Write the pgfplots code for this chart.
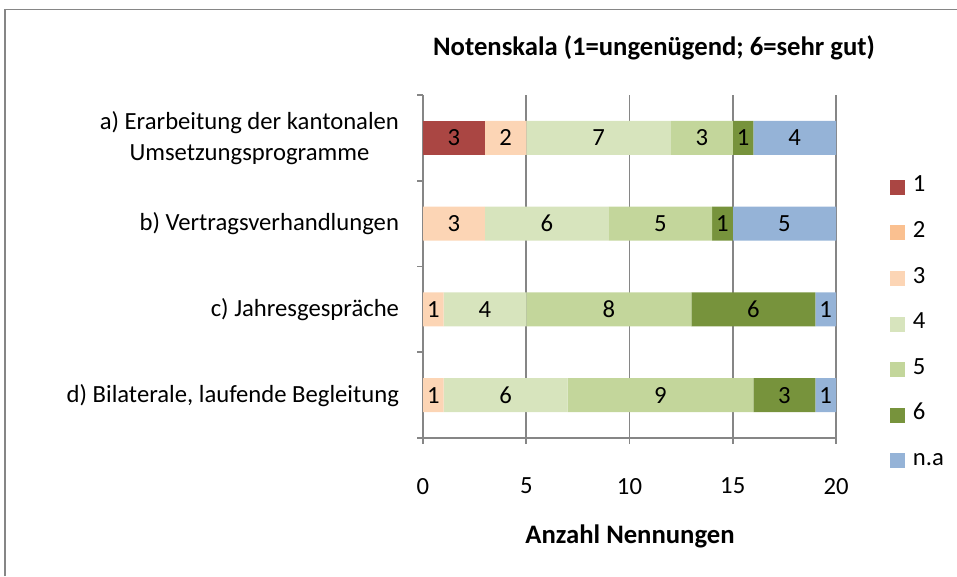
\documentclass[border=0pt]{standalone}
\usepackage{pgfplots}
\pgfplotsset{compat=1.18}
\usepackage{pgfplotstable}
\usepackage{fontspec}
\setmainfont{Carlito}

\definecolor{c1}{RGB}{170,70,67}
\definecolor{c2}{RGB}{250,192,144}
\definecolor{c3}{RGB}{252,213,181}
\definecolor{c4}{RGB}{215,228,189}
\definecolor{c5}{RGB}{195,214,155}
\definecolor{c6}{RGB}{119,147,60}
\definecolor{cna}{RGB}{149,179,215}
\definecolor{gridgray}{RGB}{134,134,134}

\pgfplotstableread{
cat v1 v2 v3 v4 v5 v6 vna
4 3 0 2 7 3 1 4
3 0 0 3 6 5 1 5
2 0 0 1 4 8 6 1
1 0 0 1 6 9 3 1
}\datatable

\newcommand{\lblfont}{\fontsize{18.5}{23.5}\selectfont}

\begin{document}
\begin{tikzpicture}[x=0.75pt,y=0.75pt]
\useasboundingbox (0,0) rectangle (957,576);
\draw[gridgray, line width=1.1pt] (5,0) -- (5,566.5) -- (957,566.5);
\node[font=\bfseries\fontsize{20}{24}\selectfont] at (654,528) {Notenskala (1=ungenügend; 6=sehr gut)};
\node[font=\bfseries\fontsize{20}{24}\selectfont] at (630,40) {Anzahl Nennungen};
\begin{axis}[
  at={(317.25pt,103.5pt)}, anchor=south west,
  scale only axis, width=309.75pt, height=257.25pt,
  xbar stacked, bar width=25.5pt,
  xmin=0, xmax=20, ymin=0.5, ymax=4.5,
  axis x line*=bottom, axis y line*=left,
  axis line style={gridgray, line width=1.2pt, -},
  xtick={0,5,10,15,20},
  xmajorgrids, grid style={gridgray, line width=1.2pt},
  tick align=outside,
  major x tick style={gridgray, line width=1.2pt},
  major tick length=4.5pt,
  ytick={1,2,3,4},
  yticklabels={{d) Bilaterale, laufende Begleitung},{c) Jahresgespräche},{b) Vertragsverhandlungen},{a) Erarbeitung der kantonalen\\Umsetzungsprogramme}},
  major y tick style={draw=none},
  minor ytick={0.5,1.5,2.5,3.5,4.5},
  minor y tick style={gridgray, line width=1.2pt},
  minor tick length=4.5pt,
  yticklabel style={font=\lblfont, align=center, xshift=-10pt},
  xticklabel style={font=\lblfont, yshift=-22pt},
  /pgf/number format/assume math mode=true,
  point meta=explicit,
  nodes near coords={\pgfmathfloatifflags{\pgfplotspointmeta}{0}{}{\pgfmathprintnumber{\pgfplotspointmeta}}},
  every node near coord/.append style={font=\lblfont, black, anchor=center},
  legend style={at={(1.13,0.332)}, anchor=west, draw=none, fill=none, font=\lblfont,
    row sep=23pt, inner sep=0pt, nodes={inner sep=0pt, text height=9pt, text depth=2pt}},
  legend cell align=left,
  legend image code/.code={\fill[#1] (0pt,-5.6pt) rectangle (11.25pt,5.6pt); \node at (16pt,0) {};},
  clip=false,
]
\addplot[fill=c1, draw=none] table[x=v1,y=cat,meta=v1] {\datatable};
\addplot[fill=c2, draw=none] table[x=v2,y=cat,meta=v2] {\datatable};
\addplot[fill=c3, draw=none] table[x=v3,y=cat,meta=v3] {\datatable};
\addplot[fill=c4, draw=none] table[x=v4,y=cat,meta=v4] {\datatable};
\addplot[fill=c5, draw=none] table[x=v5,y=cat,meta=v5] {\datatable};
\addplot[fill=c6, draw=none] table[x=v6,y=cat,meta=v6] {\datatable};
\addplot[fill=cna, draw=none] table[x=vna,y=cat,meta=vna] {\datatable};
\legend{1,2,3,4,5,6,n.a}
\end{axis}
\end{tikzpicture}
\end{document}
